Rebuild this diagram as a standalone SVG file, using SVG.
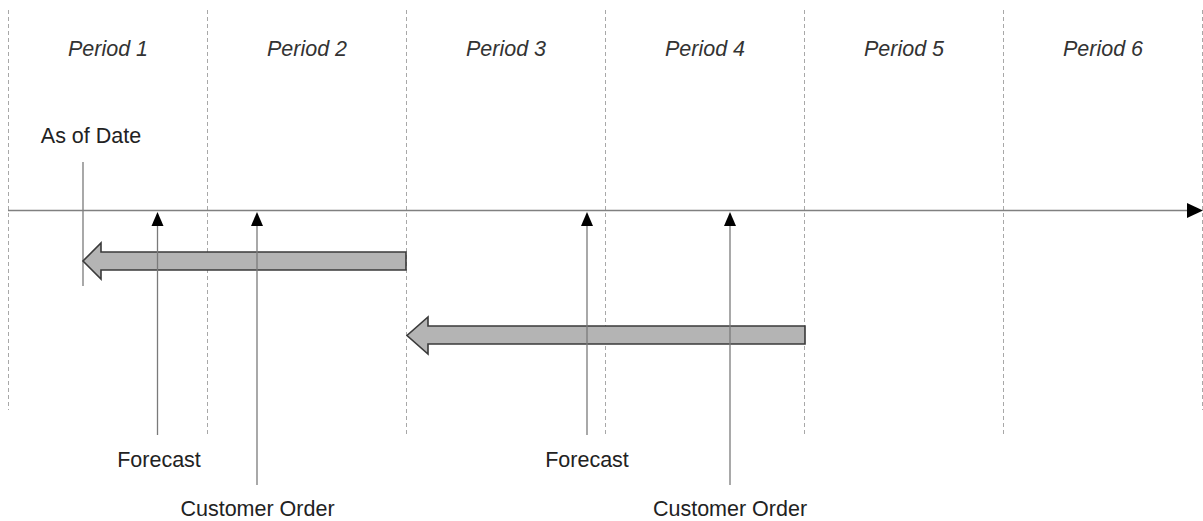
<svg xmlns="http://www.w3.org/2000/svg" width="1203" height="521" viewBox="0 0 1203 521">
  <style>
    .grid { stroke: #a8a8a8; stroke-width: 1; stroke-dasharray: 4 3; fill: none; }
    .axis { stroke: #808080; stroke-width: 1.3; fill: none; }
    .stem { stroke: #7a7a7a; stroke-width: 1.3; fill: none; }
    .tri { fill: #000; }
    .block { fill: #b4b4b4; stroke: #3a3a3a; stroke-width: 1.6; stroke-linejoin: miter; }
    .period { font-family: "Liberation Sans", Arial, sans-serif; font-size: 21.5px; font-style: italic; fill: #333; text-anchor: middle; }
    .label { font-family: "Liberation Sans", Arial, sans-serif; font-size: 21.5px; fill: #222; text-anchor: middle; }
  </style>

  <rect width="1203" height="521" fill="#fff"/>

  <!-- period boundaries -->
  <g id="grid">
    <line class="grid" x1="8.5" y1="10" x2="8.5" y2="410"/>
    <line class="grid" x1="207.5" y1="10" x2="207.5" y2="436"/>
    <line class="grid" x1="406.5" y1="10" x2="406.5" y2="436"/>
    <line class="grid" x1="605.5" y1="10" x2="605.5" y2="436"/>
    <line class="grid" x1="804.5" y1="10" x2="804.5" y2="436"/>
    <line class="grid" x1="1003.5" y1="10" x2="1003.5" y2="436"/>
    <line class="grid" x1="1202.5" y1="10" x2="1202.5" y2="410"/>
  </g>

  <!-- period headings -->
  <g id="periods">
    <text class="period" x="108" y="56">Period 1</text>
    <text class="period" x="307" y="56">Period 2</text>
    <text class="period" x="506" y="56">Period 3</text>
    <text class="period" x="705" y="56">Period 4</text>
    <text class="period" x="904" y="56">Period 5</text>
    <text class="period" x="1103" y="56">Period 6</text>
  </g>

  <!-- as-of date marker -->
  <g id="as-of-date">
    <text class="label" x="91" y="143">As of Date</text>
    <line class="stem" x1="83" y1="162" x2="83" y2="286"/>
  </g>

  <!-- horizon shift block arrows -->
  <g id="shift-1">
    <path class="block" d="M406,252 L101,252 L101,243 L83,261 L101,279 L101,270 L406,270 Z"/>
  </g>
  <g id="shift-2">
    <path class="block" d="M805,326 L428,326 L428,317 L407,335.5 L428,354 L428,344 L805,344 Z"/>
  </g>

  <!-- time axis and demand markers -->
  <g id="connectors">
    <line class="axis" x1="8" y1="210.5" x2="1190" y2="210.5"/>
    <path class="tri" d="M1187,203 L1203,210.5 L1187,218 Z"/>

    <line class="stem" x1="157.5" y1="224" x2="157.5" y2="435"/>
    <path class="tri" d="M157.5,212 L163.5,226 L151.5,226 Z"/>

    <line class="stem" x1="257" y1="224" x2="257" y2="485"/>
    <path class="tri" d="M257,212 L263,226 L251,226 Z"/>

    <line class="stem" x1="587" y1="224" x2="587" y2="435"/>
    <path class="tri" d="M587,212 L593,226 L581,226 Z"/>

    <line class="stem" x1="730" y1="224" x2="730" y2="485"/>
    <path class="tri" d="M730,212 L736,226 L724,226 Z"/>
  </g>

  <!-- marker labels -->
  <g id="forecast-1"><text class="label" x="159" y="467">Forecast</text></g>
  <g id="order-1"><text class="label" x="257.5" y="516">Customer Order</text></g>
  <g id="forecast-2"><text class="label" x="587" y="467">Forecast</text></g>
  <g id="order-2"><text class="label" x="730" y="516">Customer Order</text></g>
</svg>
